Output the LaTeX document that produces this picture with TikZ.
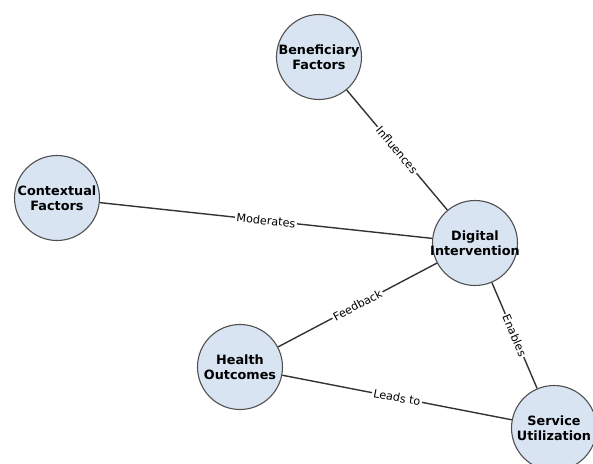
\documentclass[tikz,border=0pt]{standalone}
\usepackage{fontspec}
\setmainfont{DejaVu Sans}
\usetikzlibrary{positioning}
\definecolor{factor-fill}{HTML}{D9E4F2}
\definecolor{factor-edge}{HTML}{505050}
\definecolor{link-gray}{HTML}{333333}

\begin{document}
\begin{tikzpicture}[x=1pt,y=-1pt,
  factor/.style={circle,draw=factor-edge,line width=1.1pt,fill=factor-fill,minimum size=85pt,inner sep=0pt},
  factortext/.style={align=center,inner sep=0pt,font=\fontsize{12.8}{15}\selectfont\bfseries},
  link/.style={draw=link-gray,line width=1.4pt},
  linklabel/.style={midway,sloped,fill=white,inner sep=1.5pt,font=\fontsize{11.2}{12}\selectfont}]
  \useasboundingbox (0,0) rectangle (593,463);

  % Kredse
  \node[factor] (ben) at (319,57) {};
  \node[factor] (ctx) at (57,198) {};
  \node[factor] (dig) at (475,243) {};
  \node[factor] (hlt) at (240,367) {};
  \node[factor] (svc) at (554,428) {};

  % Tekst i kredsene
  \node[factortext] at (ben) {Beneficiary\\Factors};
  \node[factortext] at (ctx) {Contextual\\Factors};
  \node[factortext] at (dig) {Digital\\Intervention};
  \node[factortext] at (hlt) {Health\\Outcomes};
  \node[factortext] at (svc) {Service\\Utilization};

  % Forbindelser
  \draw[link] (ben) -- (dig) node[linklabel] {Influences};
  \draw[link] (ctx) -- (dig) node[linklabel] {Moderates};
  \draw[link] (hlt) -- (dig) node[linklabel] {Feedback};
  \draw[link] (dig) -- (svc) node[linklabel] {Enables};
  \draw[link] (hlt) -- (svc) node[linklabel] {Leads to};
\end{tikzpicture}
\end{document}
